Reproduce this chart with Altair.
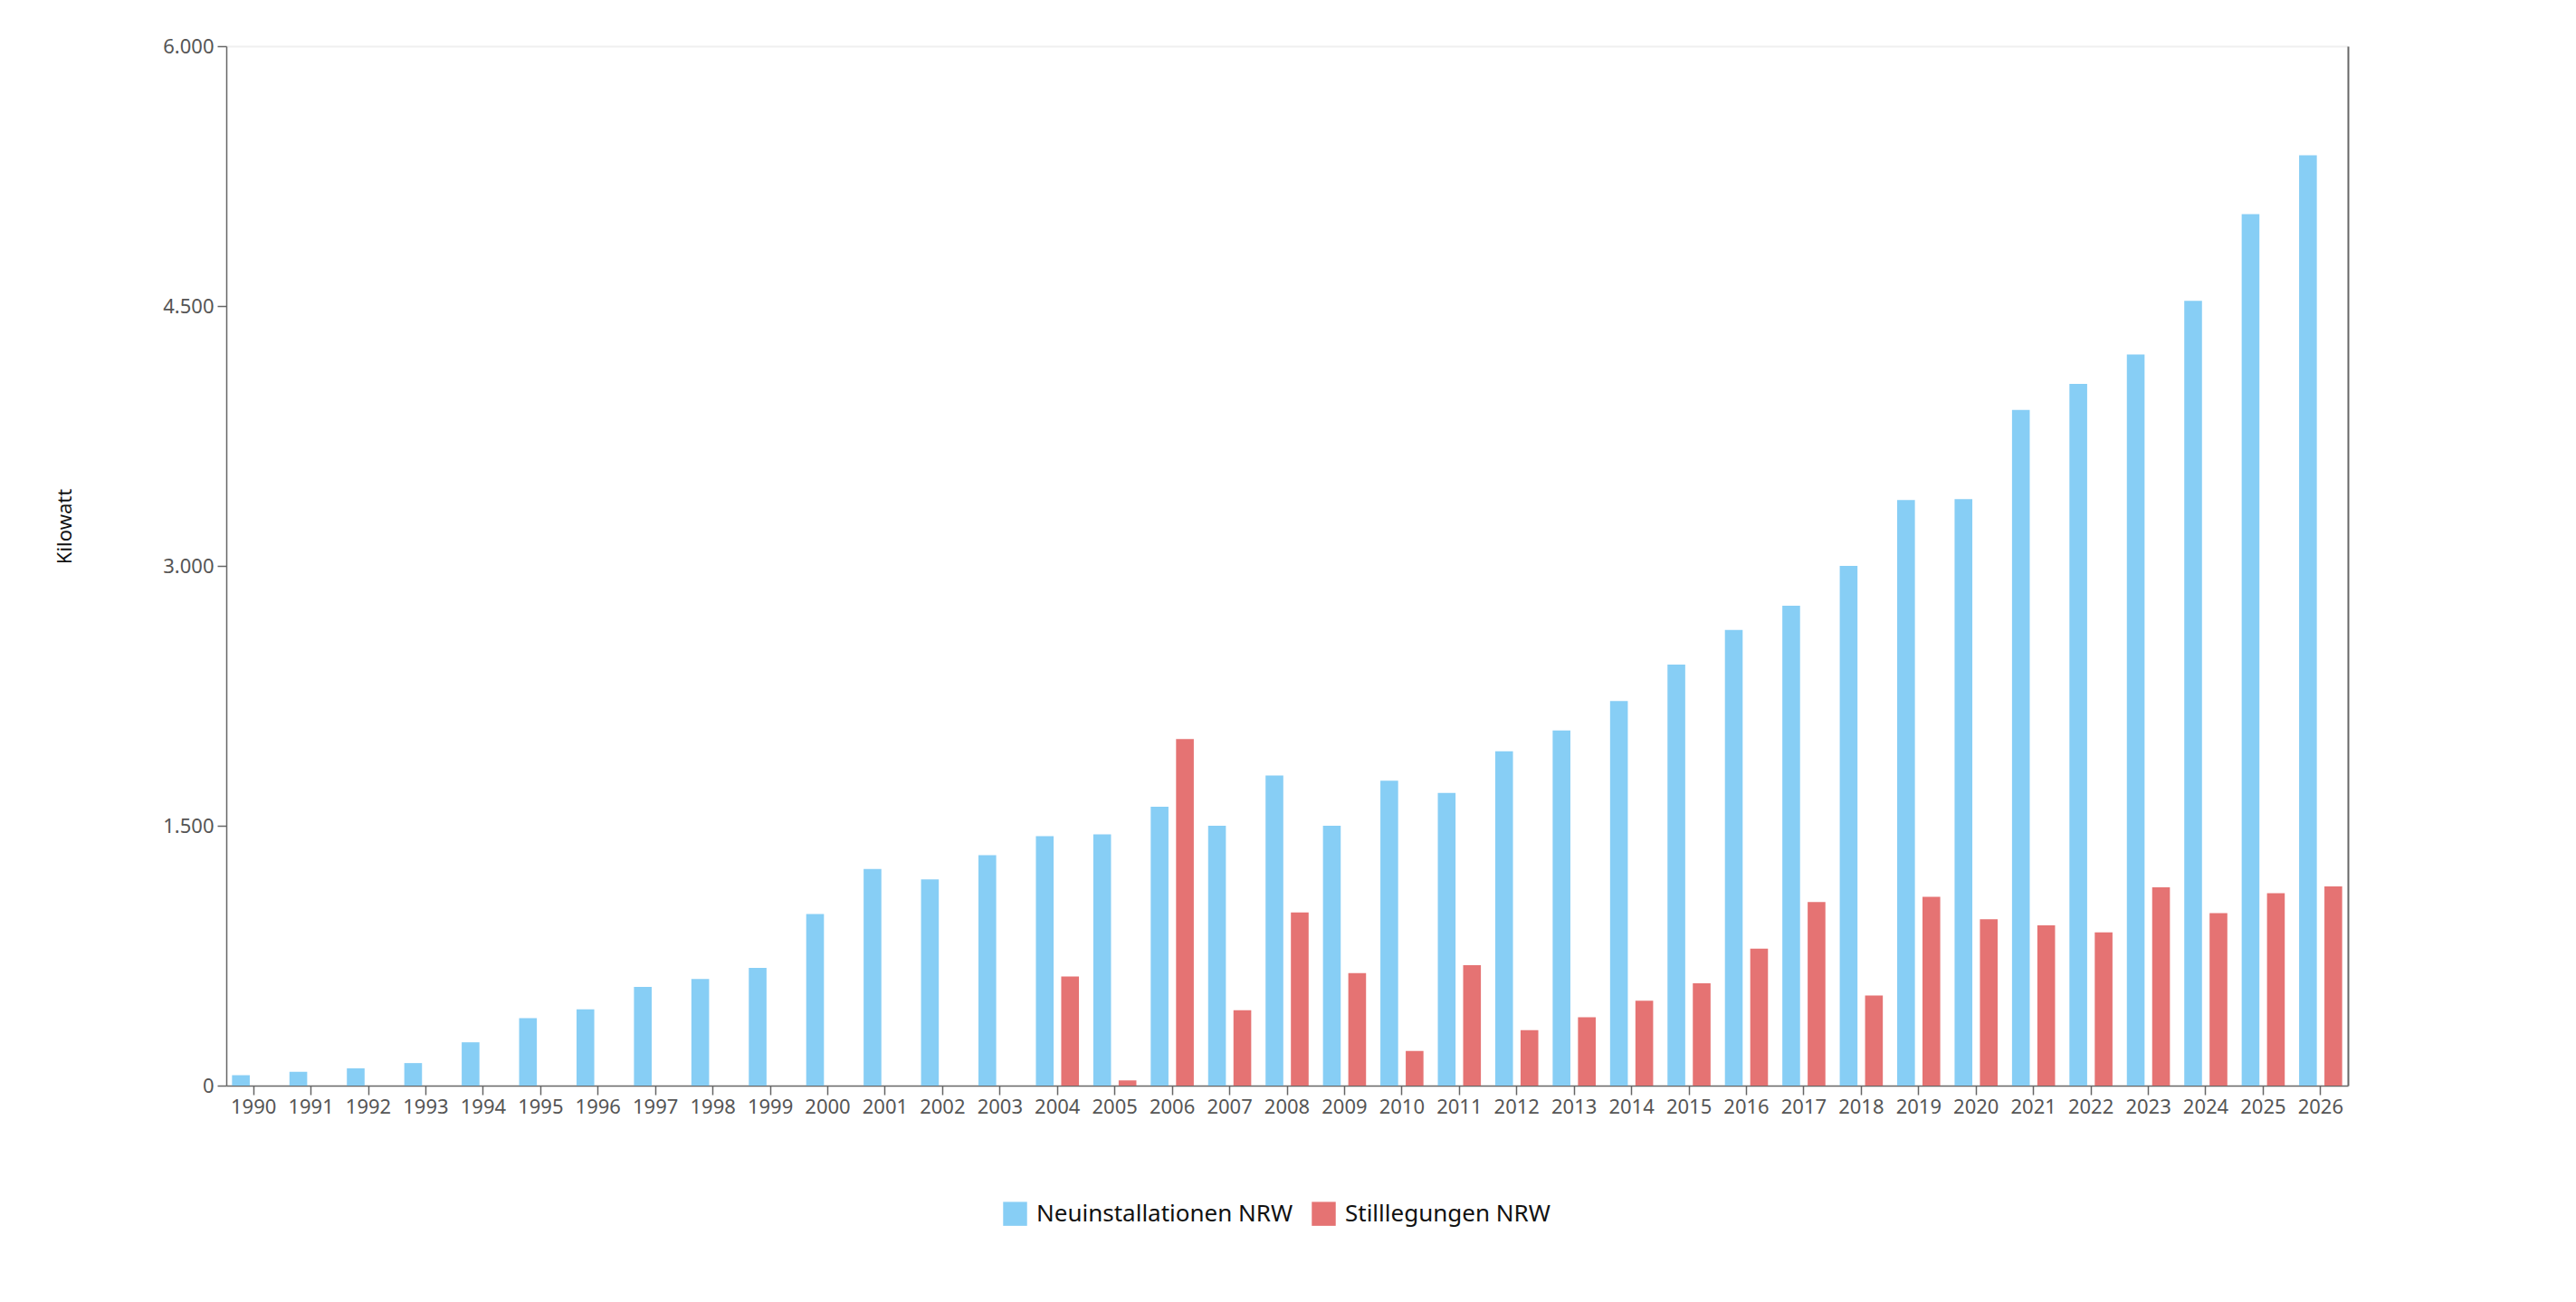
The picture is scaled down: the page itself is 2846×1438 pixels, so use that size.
import altair as alt
import pandas as pd

jahre = [str(y) for y in range(1990, 2027)]
serien = ["Neuinstallationen NRW", "Stilllegungen NRW"]
neuinstallationen = [60, 80, 100, 130, 250, 390, 440, 570, 615, 680,
                     990, 1250, 1190, 1330, 1440, 1450, 1610, 1500, 1790, 1500,
                     1760, 1690, 1930, 2050, 2220, 2430, 2630, 2770, 3000, 3380,
                     3385, 3900, 4050, 4220, 4530, 5030, 5370]
stilllegungen = [0] * 14 + [630, 30, 2000, 435, 1000, 650, 200, 695, 320, 395,
                            490, 590, 790, 1060, 520, 1090, 960, 925, 885, 1145,
                            995, 1110, 1150]
y_ticks = [0, 1500, 3000, 4500, 6000]
farben = ["#87CEF5", "#E57373"]

rows = []
for j, n, s in zip(jahre, neuinstallationen, stilllegungen):
    rows.append({"Jahr": j, "Serie": serien[0], "Wert": n})
    rows.append({"Jahr": j, "Serie": serien[1], "Wert": s})
df = pd.DataFrame(rows)

FONT = "Noto Sans"

base = alt.Chart(df).encode(
    x=alt.X("Jahr:N", sort=jahre,
            scale=alt.Scale(paddingInner=0.25, paddingOuter=0.1),
            axis=alt.Axis(title=None, labelAngle=0, labelPadding=3)),
    xOffset=alt.XOffset("Serie:N", sort=serien,
                        scale=alt.Scale(paddingInner=0.3, paddingOuter=0)),
    color=alt.Color("Serie:N", sort=serien,
                    scale=alt.Scale(domain=serien, range=farben),
                    legend=alt.Legend(title=None, orient="none", direction="horizontal",
                                      legendX=858, legendY=1276,
                                      symbolType="square", symbolSize=700,
                                      symbolStrokeWidth=0, labelLimit=0,
                                      labelFontSize=26, labelColor="#111111",
                                      labelFont=FONT, labelOffset=10,
                                      columnPadding=20, padding=0)),
)

yscale = alt.Scale(domain=[0, 6000], nice=False)

bars = base.mark_bar().encode(
    y=alt.Y("Wert:Q", scale=yscale,
            axis=alt.Axis(values=y_ticks,
                          labelExpr="replace(format(datum.value, ','), ',', '.')",
                          title="Kilowatt", titleFont=FONT, titleFontSize=22,
                          titleFontWeight="normal", titleColor="#111111",
                          titleAngle=270, titleX=-179, titleY=530,
                          titleAlign="center", titleBaseline="middle",
                          grid=True,
                          gridColor={"condition": {"test": "datum.value === 6000", "value": "#EFEFEF"},
                                     "value": "transparent"},
                          gridWidth=2, labelPadding=4)),
)

frame = base.mark_bar(opacity=0).encode(
    y=alt.Y("Wert:Q", scale=yscale,
            axis=alt.Axis(orient="right", labels=False, ticks=False, grid=False,
                          domain=True, title=None, domainWidth=2)),
)

chart = alt.layer(bars, frame).resolve_scale(y="independent").properties(
    width=2344, height=1148,
    autosize=alt.AutoSizeParams(type="none"),
    padding={"left": 242, "top": 43, "right": 244, "bottom": 220},
).configure_view(stroke=None).configure_axis(
    labelFont=FONT, labelFontSize=22, labelColor="#555555",
    domainColor="#666666", tickColor="#666666",
    domainWidth=1.5, tickWidth=1.5, tickSize=10,
)

chart.save("out.html", embed_options={"renderer": "svg", "actions": False})
